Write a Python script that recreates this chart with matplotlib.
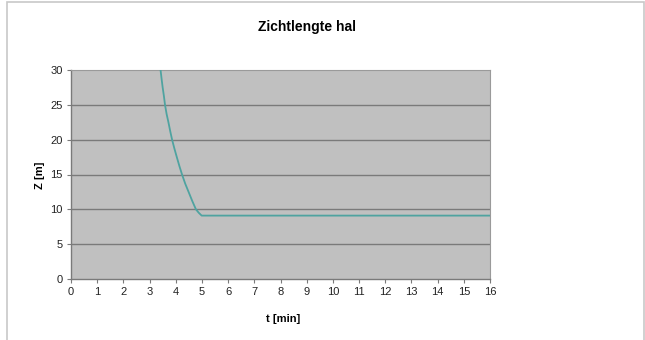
import matplotlib
matplotlib.use("Agg")
import matplotlib.pyplot as plt
from matplotlib.patches import Rectangle

plt.rcParams['font.family'] = ['Liberation Sans', 'DejaVu Sans']

t = [3.42, 3.46, 3.50, 3.55, 3.59, 3.65, 3.72, 3.79, 3.86, 3.95, 4.04, 4.14, 4.24, 4.36, 4.49, 4.63, 4.77, 4.88, 4.99, 16.0]
z = [30.0, 28.7, 27.5, 26.2, 25.0, 23.7, 22.5, 21.2, 20.0, 18.7, 17.5, 16.2, 15.0, 13.7, 12.5, 11.2, 10.0, 9.5, 9.1, 9.1]
xticks = list(range(0, 17))
yticks = [0, 5, 10, 15, 20, 25, 30]
title = "Zichtlengte hal"
xlabel = "t [min]"
ylabel = "Z [m]"

W, H = 645, 340
fig = plt.figure(figsize=(W/100, H/100), dpi=100)
fig.patch.set_facecolor('white')
fig.add_artist(Rectangle((7/W, -0.05), (644-7)/W, 1 - 2/H + 0.05, transform=fig.transFigure,
                         fill=False, edgecolor='#c8c8c8', linewidth=1.2))

ax = fig.add_axes([71/W, 1-279/H, (490-71)/W, (279-70)/H])
ax.set_facecolor('#c0c0c0')
ax.set_xlim(0, 16)
ax.set_ylim(0, 30)
ax.set_xticks(xticks)
ax.set_yticks(yticks)
for yv in yticks[1:-1]:
    ax.axhline(yv, color='#7a7a7a', linewidth=1.0, zorder=1)
ax.plot(t, z, color='#4fa3a0', linewidth=1.3, zorder=3)

for s in ['top', 'right']:
    ax.spines[s].set_color('#9a9a9a')
    ax.spines[s].set_linewidth(0.8)
for s in ['left', 'bottom']:
    ax.spines[s].set_color('#7a7a7a')
    ax.spines[s].set_linewidth(1.0)
ax.tick_params(direction='out', length=3, width=0.8, color='#7a7a7a', labelsize=8, labelcolor='#222222', pad=3)

fig.text(307/W, 1-27/H, title, ha='center', va='center', fontsize=10, fontweight='bold')
fig.text(283/W, 1-319/H, xlabel, ha='center', va='center', fontsize=8, fontweight='bold')
fig.text(40/W, 1-175/H, ylabel, ha='center', va='center', fontsize=8, fontweight='bold', rotation=90)

fig.savefig('out.png', dpi=100)
